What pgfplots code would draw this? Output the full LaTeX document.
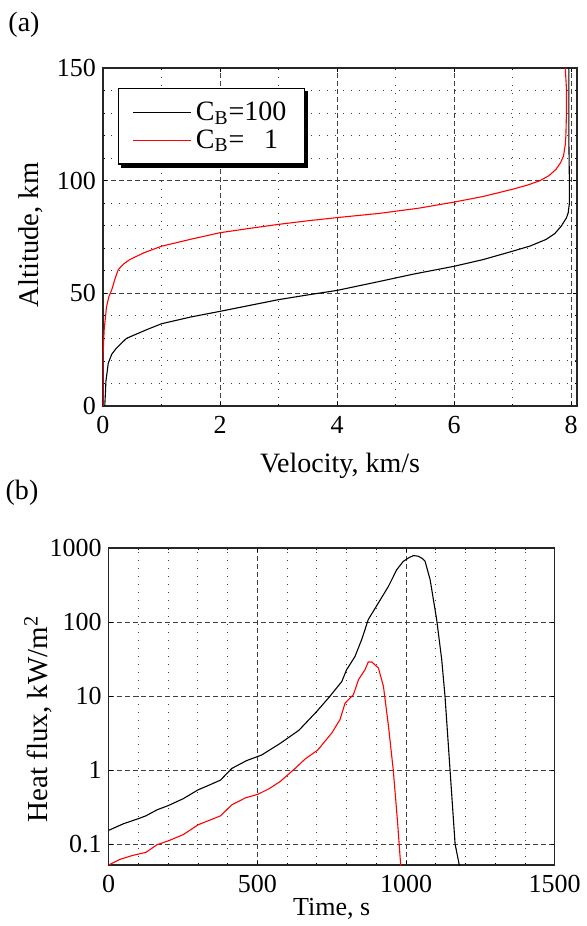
\documentclass[border=0pt]{standalone}
\usepackage{fontspec}
\setmainfont{Liberation Serif}
\newfontfamily\tnr{Liberation Serif}
\usepackage{pgfplots}
\pgfplotsset{compat=1.18}

% all text set at 13pt, enlarged with \scalebox where the reference is larger
\newcommand\txt[2]{\scalebox{#1}{\tnr\fontsize{13}{15}\selectfont #2}}

\pgfplotsset{
  refplot/.style={
    scale only axis,
    axis line style={black!85, line width=0.6pt},
    tick align=inside,
    major tick length=2pt, minor tick length=1.2pt,
    every tick/.style={black, line width=0.4pt},
    major grid style={black!75, line width=0.45pt, dash pattern=on 2.5pt off 1.5pt},
    minor grid style={black!75, line width=0.45pt, dash pattern=on 0.5pt off 3.5pt},
    tick label style={font=\tnr\fontsize{13}{15}\selectfont},
    xticklabel style={yshift=-1.5pt},
    /pgf/number format/assume math mode=true,
  }
}

\begin{document}
\begin{tikzpicture}
\path[use as bounding box] (0,0) rectangle (293pt,463pt);

\node at (12pt,450.5pt) {\txt{1.077}{(a)}};
\node at (11pt,216.5pt) {\txt{1.077}{(b)}};

% axis titles
\node at (170pt,230pt) {\txt{1.077}{Velocity, km/s}};
\node[rotate=90] at (15.5pt,345.5pt) {\txt{1.1}{Altitude, km}};
\node at (165.85pt,8.5pt) {\txt{1}{Time, s}};
\node[rotate=90] at (19pt,103.5pt) {\txt{1.115}{Heat flux, kW/m\textsuperscript{2}}};

% (a) altitude vs velocity
\begin{axis}[refplot,
  at={(51.5pt,260pt)}, anchor=south west,
  width=237pt, height=169pt,
  xmin=0, xmax=8.1, ymin=0, ymax=150,
  xtick={0,2,4,6,8}, ytick={0,50,100,150},
  minor x tick num=1, minor y tick num=4,
  grid=both,
  legend cell align=left,
  legend image code/.code={\draw[#1] (0pt,0pt) -- (29pt,0pt);},
  legend style={name=leg, at={(axis description cs:0.032,0.94)}, anchor=north west,
    draw=black, line width=0.6pt, fill=white,
    inner xsep=7pt, inner ysep=4.5pt, row sep=-1pt},
]
\addplot[black, line width=0.55pt] coordinates {
(0.03,0) (0.04,5) (0.05,11) (0.09,19) (0.15,23) (0.23,25.7) (0.40,30)
(0.74,33.8) (1.0,36.5) (1.5,39.5) (2.0,42) (2.5,44.6) (3.0,47.2) (3.5,49.3)
(4.0,51.3) (4.73,55.3) (5.3,58.5) (6.0,62) (6.5,65) (7.0,68.7) (7.3,71)
(7.57,73.9) (7.72,76.5) (7.83,79.8) (7.92,83.5) (7.95,85.8) (7.97,90)
(7.97,100) (7.96,120) (7.96,150)};
\addlegendentry{\txt{1.077}{C\textsubscript{B}=100}}
\addplot[red, line width=0.55pt] coordinates {
(0,0) (0,10) (0.0,22) (0.02,33.8) (0.06,44) (0.1,48.5) (0.15,51.6) (0.2,56)
(0.26,60.5) (0.35,63) (0.46,65) (0.7,68) (1.0,70.9) (1.5,74) (2.0,76.9)
(2.5,78.8) (3.0,80.6) (3.5,82.2) (4.0,83.6) (4.73,85.5) (5.4,87.8) (6.0,90.5)
(6.5,93) (7.0,96.2) (7.25,98) (7.46,99.9) (7.62,102.2) (7.74,105) (7.82,108)
(7.87,111) (7.9,116) (7.91,120) (7.92,130) (7.92,140.7) (7.9,150)};
\addlegendentry{\txt{1.077}{C\textsubscript{B}=\hspace{0.7em}1}}
\end{axis}
% legend shadow (right and bottom)
\fill[black] ([xshift=1.6pt,yshift=-1.6pt]leg.south west) rectangle ([xshift=1.6pt]leg.south east);
\fill[black] ([yshift=-1.6pt]leg.south east) rectangle ([xshift=1.6pt,yshift=-1.6pt]leg.north east);

% (b) heat flux vs time
\begin{axis}[refplot,
  at={(54.35pt,30.5pt)}, anchor=south west,
  width=223pt, height=158.5pt,
  ymode=log,
  xmin=0, xmax=1500, ymin=0.052, ymax=1000,
  xtick={0,500,1000,1500}, xticklabels={0,500,1000,1500},
  ytick={0.1,1,10,100,1000}, yticklabels={0.1,1,10,100,1000},
  minor x tick num=4, yminorticks=false,
  xmajorgrids, ymajorgrids, xminorgrids,
]
\addplot[black, line width=0.55pt] coordinates {
(0,0.153) (50,0.188) (100,0.22) (125,0.24) (163,0.29) (200,0.33) (251,0.41)
(301,0.54) (340,0.63) (376,0.73) (414,1.05) (464,1.34) (514,1.59) (577,2.29)
(640,3.45) (700,6.2) (744,9.9) (784,15.7) (800,22.6) (828,34) (851,58)
(873,108) (907,181) (941,304) (969,511) (991,662) (1010,740) (1025,790)
(1041,775) (1055,720) (1064,662) (1081,374) (1103,108) (1120,31) (1131,10)
(1148,1) (1165,0.1) (1179,0.052) (1185,0.04)};
\addplot[red, line width=0.55pt] coordinates {
(0,0.052) (38,0.062) (80,0.07) (125,0.077) (163,0.098) (200,0.11) (251,0.134)
(301,0.182) (340,0.21) (376,0.24) (414,0.338) (460,0.42) (502,0.47) (540,0.56)
(577,0.70) (627,1.05) (660,1.4) (703,1.86) (750,3.15) (778,4.8) (795,8.0)
(823,10.4) (840,16.6) (862,22.7) (873,28.8) (885,28.8) (907,23.9) (924,13.5)
(941,3.9) (957,1.0) (971,0.21) (982,0.052) (985,0.045)};
\end{axis}
\end{tikzpicture}
\end{document}
